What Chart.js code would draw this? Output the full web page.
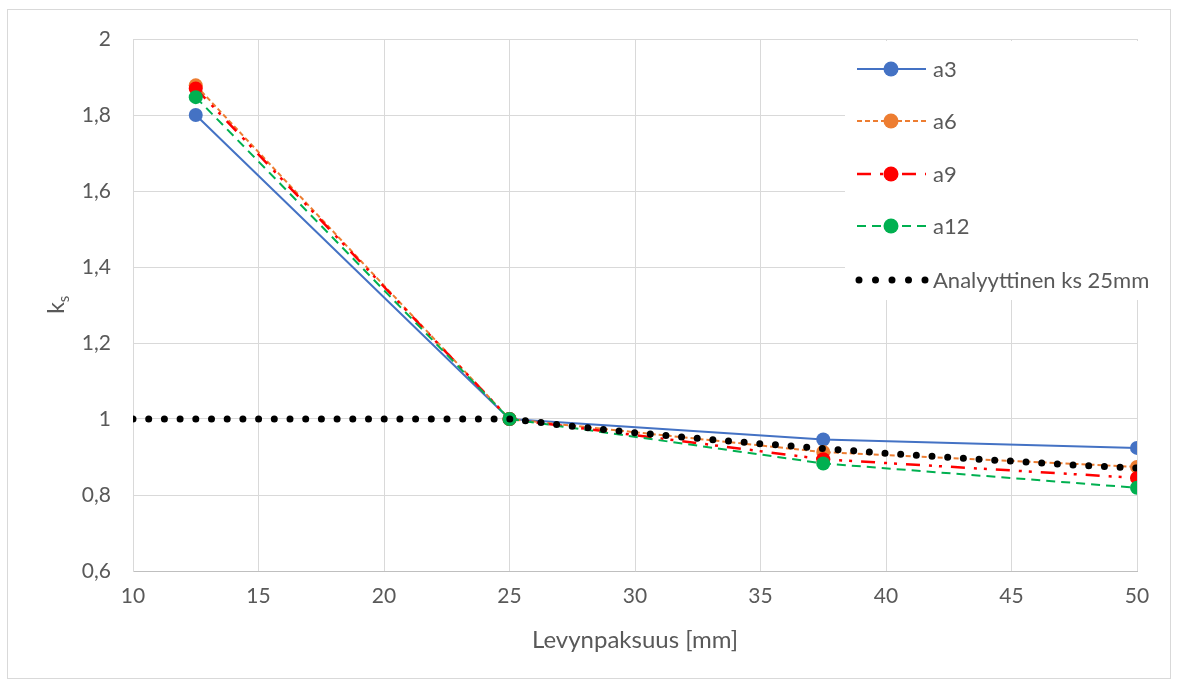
<!DOCTYPE html>
<html>
<head>
<meta charset="utf-8">
<script src="https://cdn.jsdelivr.net/npm/chart.js@4/dist/chart.umd.min.js"></script>
<style>
html,body{margin:0;padding:0;background:#fff;}
canvas{display:block;}
</style>
</head>
<body>
<canvas id="c" width="1177" height="684"></canvas>
<script>
// ---- data ----
const thickness = [12.5, 25, 37.5, 50];
const a3 = [1.800, 1.000, 0.946, 0.924];
const a6 = [1.878, 1.000, 0.913, 0.874];
const a9 = [1.870, 1.000, 0.894, 0.845];
const a12 = [1.847, 1.000, 0.883, 0.819];
const analThickness = [10, 25, 27.5, 30, 32.5, 35, 37.5, 40, 42.5, 45, 47.5, 50];
const analKs = [1.000, 1.000, 0.981, 0.964, 0.949, 0.935, 0.922, 0.910, 0.899, 0.889, 0.879, 0.871];
const seriesNames = ['a3', 'a6', 'a9', 'a12', 'Analyyttinen ks 25mm'];
const xTitle = 'Levynpaksuus [mm]';

const FONT = 'Lato, "Open Sans", sans-serif';
const TXT = '#595959';

function pts(xs, ys){ return xs.map((x,i)=>({x:x, y:ys[i]})); }

const styles = [
  {color:'#4472C4', dash:[], width:2, order:5},
  {color:'#ED7D31', dash:[5,3], width:2, order:4},
  {color:'#FF0000', dash:[14,9,3,7,3,9], width:2.5, order:3},
  {color:'#00B050', dash:[9,6], width:2, order:2},
];
const seriesData = [a3, a6, a9, a12];

const datasets = seriesData.map((d,i)=>({
  label: seriesNames[i],
  data: pts(thickness, d),
  borderColor: styles[i].color,
  backgroundColor: styles[i].color,
  borderWidth: styles[i].width,
  borderDash: styles[i].dash,
  pointRadius: 7,
  pointHoverRadius: 7,
  pointBorderWidth: 0,
  pointBackgroundColor: styles[i].color,
  tension: 0,
  order: styles[i].order
}));
datasets.push({
  label: seriesNames[4],
  data: pts(analThickness, analKs),
  borderColor: '#000000',
  borderWidth: 7,
  borderDash: [0, 15.7],
  borderCapStyle: 'round',
  pointRadius: 0,
  tension: 0,
  order: 1
});

const framePlugin = {
  id: 'frame',
  beforeDraw(chart){
    const ctx = chart.ctx;
    ctx.save();
    ctx.fillStyle = '#fff';
    ctx.fillRect(0,0,chart.width,chart.height);
    ctx.strokeStyle = '#d9d9d9';
    ctx.lineWidth = 1;
    ctx.strokeRect(7.5, 9.5, 1163, 669);
    ctx.restore();
  },
  afterDraw(chart){
    const ctx = chart.ctx;
    ctx.save();
    // y title k_s
    ctx.fillStyle = TXT;
    ctx.translate(64, 305);
    ctx.rotate(-Math.PI/2);
    ctx.textBaseline = 'alphabetic';
    ctx.textAlign = 'left';
    ctx.font = '23px ' + FONT;
    const kw = ctx.measureText('k').width;
    ctx.fillText('k', -kw/2 - 3, 0);
    ctx.font = '15px ' + FONT;
    ctx.fillText('s', kw/2 - 3, 5);
    ctx.restore();

    // legend
    ctx.save();
    ctx.fillStyle = '#fff';
    ctx.fillRect(845, 41, 315, 259);
    const ys = [69, 121, 174, 226, 280];
    const x0 = 857, x1 = 926, xm = 891;
    chart.data.datasets.forEach((ds, i) => {
      const y = ys[i];
      ctx.save();
      ctx.strokeStyle = ds.borderColor;
      ctx.lineWidth = ds.borderWidth;
      ctx.setLineDash(i === 4 ? [0, 16.5] : (ds.borderDash || []));
      ctx.lineCap = ds.borderCapStyle || 'butt';
      ctx.beginPath();
      if (i === 4) { ctx.moveTo(x0+2, y); ctx.lineTo(x1, y); }
      else { ctx.moveTo(x0, y); ctx.lineTo(x1, y); }
      ctx.stroke();
      ctx.restore();
      if (ds.pointRadius > 0) {
        ctx.beginPath();
        ctx.fillStyle = ds.pointBackgroundColor;
        ctx.arc(xm, y, 7.5, 0, Math.PI*2);
        ctx.fill();
      }
      ctx.fillStyle = TXT;
      ctx.font = '22px ' + FONT;
      ctx.textBaseline = 'middle';
      ctx.textAlign = 'left';
      ctx.fillText(ds.label, 933, y + 1);
    });
    ctx.restore();
  }
};

new Chart(document.getElementById('c'), {
  type: 'line',
  data: { datasets: datasets },
  plugins: [framePlugin],
  options: {
    responsive: false,
    devicePixelRatio: 1,
    animation: false,
    layout: { padding: { top: 39, right: 40, left: 0, bottom: 0 } },
    plugins: { legend: { display: false }, tooltip: { enabled: false } },
    scales: {
      x: {
        type: 'linear', min: 10, max: 50,
        ticks: { stepSize: 5, color: TXT, font: { family: FONT, size: 21 }, padding: 13, maxRotation: 0 },
        grid: { color: '#d9d9d9', drawTicks: false, lineWidth: 1 },
        border: { color: '#bfbfbf', width: 1 },
        title: { display: true, text: xTitle, color: TXT, font: { family: FONT, size: 24 }, padding: { top: 0, bottom: 29 } },
        afterFit(s){ s.height = 113; }
      },
      y: {
        min: 0.6, max: 2,
        ticks: { stepSize: 0.2, color: TXT, font: { family: FONT, size: 21 }, padding: 22,
          callback: v => String(Number(v.toFixed(1))).replace('.', ',') },
        grid: { color: '#d9d9d9', drawTicks: false, lineWidth: 1 },
        border: { color: '#d9d9d9', width: 1 },
        afterFit(s){ s.width = 133; }
      }
    }
  }
});
</script>
</body>
</html>
